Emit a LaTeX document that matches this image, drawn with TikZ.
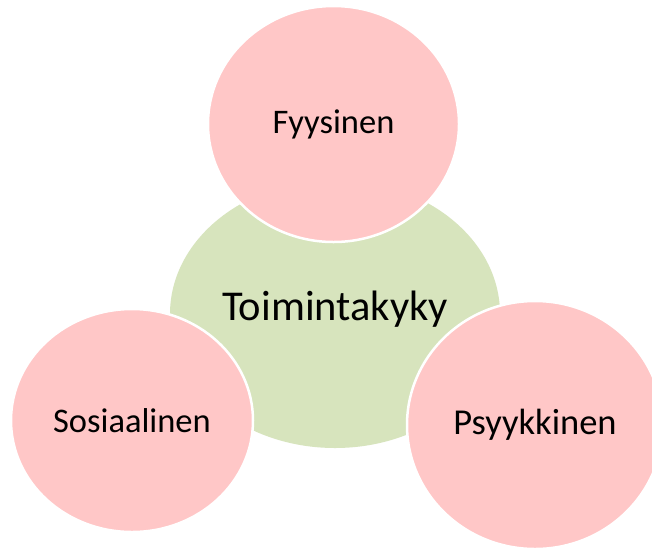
\documentclass[tikz,border=0pt]{standalone}
\usetikzlibrary{shapes.geometric}
\usepackage{fontspec}
\setmainfont{Carlito}
\definecolor{pinkfill}{HTML}{FFC7C7}
\definecolor{greenfill}{HTML}{D7E4BD}
\begin{document}
\begin{tikzpicture}[x=1pt,y=-1pt,
  core/.style={ellipse, fill=greenfill, inner sep=0pt},
  petal/.style={ellipse, fill=pinkfill, draw=white, line width=2.5pt, inner sep=0pt}]
\path[use as bounding box, fill=white] (0,0) rectangle (652,547);
\begin{scope}
\clip (0,0) rectangle (652,547);
\node[core, minimum width=330pt, minimum height=268pt] (core) at (335,314) {};
\node[font=\fontsize{42.5}{48}\selectfont] (coretext) at (335,309) {Toimintakyky};
\node[petal, minimum width=251pt, minimum height=236pt] (fyys) at (333.5,124) {};
\node[font=\fontsize{34.5}{40}\selectfont] (fyystext) at (333.5,124) {Fyysinen};
\node[petal, minimum width=242pt, minimum height=223pt] (sos) at (132,420.5) {};
\node[font=\fontsize{34.5}{40}\selectfont] (sostext) at (132,420.5) {Sosiaalinen};
\node[petal, minimum width=256pt, minimum height=248pt] (psyk) at (535,425) {};
\node[font=\fontsize{36.5}{42}\selectfont] (psyktext) at (535,425) {Psyykkinen};
\end{scope}
\end{tikzpicture}
\end{document}
